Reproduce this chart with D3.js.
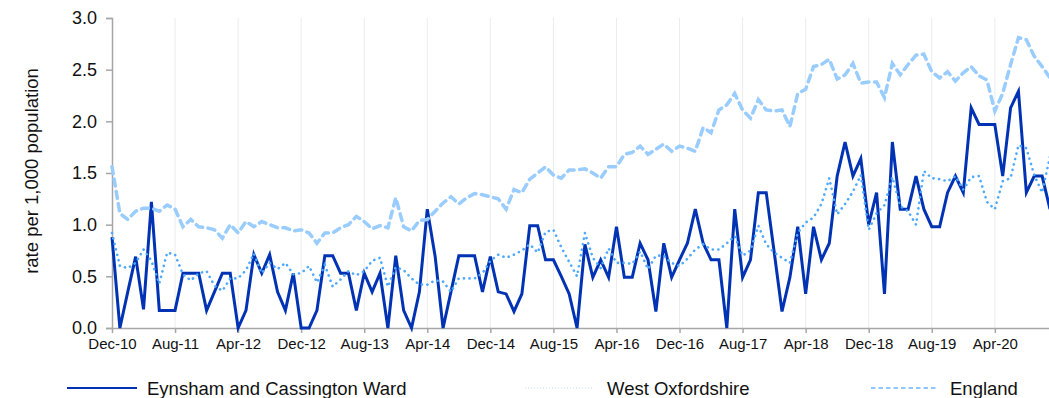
<!DOCTYPE html>
<html>
<head>
<meta charset="utf-8">
<script src="https://cdn.jsdelivr.net/npm/d3@7"></script>
<style>
  body { margin: 0; background: #fff; }
  svg { display: block; font-family: "Liberation Sans", Arial, sans-serif; }
</style>
</head>
<body>
<svg id="chart" width="1049" height="398"></svg>
<script>
// Monthly rate per 1,000 population, Dec 2010 to Nov 2020
const months = d3.timeMonth.range(new Date(2010, 11, 1), new Date(2020, 11, 1)).map(d3.timeFormat("%b-%y"));

const tickLabels = ["Dec-10", "Aug-11", "Apr-12", "Dec-12", "Aug-13", "Apr-14", "Dec-14", "Aug-15",
  "Apr-16", "Dec-16", "Aug-17", "Apr-18", "Dec-18", "Aug-19", "Apr-20"];
const yTicks = [0, 0.5, 1.0, 1.5, 2.0, 2.5, 3.0];

const eynsham = [
  0.88, 0.00, 0.35, 0.69, 0.18, 1.22, 0.17, 0.17, 0.17, 0.53, 0.53, 0.53,
  0.17, 0.35, 0.53, 0.53, 0.00, 0.17, 0.71, 0.53, 0.71, 0.35, 0.17, 0.53,
  0.00, 0.00, 0.17, 0.70, 0.70, 0.53, 0.53, 0.17, 0.53, 0.35, 0.53, 0.00,
  0.70, 0.17, 0.00, 0.35, 1.15, 0.69, 0.00, 0.35, 0.70, 0.70, 0.70, 0.35,
  0.69, 0.35, 0.33, 0.16, 0.33, 0.99, 0.99, 0.66, 0.66, 0.50, 0.33, 0.00,
  0.81, 0.49, 0.66, 0.49, 0.98, 0.49, 0.49, 0.82, 0.66, 0.16, 0.82, 0.49,
  0.66, 0.82, 1.15, 0.82, 0.66, 0.66, 0.00, 1.15, 0.49, 0.66, 1.31, 1.31,
  0.74, 0.16, 0.49, 0.98, 0.33, 0.98, 0.66, 0.82, 1.47, 1.80, 1.47, 1.64,
  1.00, 1.31, 0.33, 1.80, 1.15, 1.15, 1.47, 1.15, 0.98, 0.98, 1.31, 1.47,
  1.31, 2.13, 1.97, 1.97, 1.97, 1.47, 2.13, 2.29, 1.31, 1.47, 1.47, 1.15
];

const westOxfordshire = [
  0.92, 0.60, 0.58, 0.63, 0.76, 0.65, 0.43, 0.73, 0.71, 0.52, 0.46, 0.53,
  0.55, 0.41, 0.36, 0.48, 0.48, 0.56, 0.72, 0.53, 0.63, 0.57, 0.63, 0.52,
  0.53, 0.60, 0.44, 0.61, 0.40, 0.47, 0.55, 0.51, 0.55, 0.65, 0.68, 0.40,
  0.59, 0.56, 0.48, 0.42, 0.42, 0.46, 0.45, 0.35, 0.48, 0.48, 0.48, 0.53,
  0.65, 0.71, 0.68, 0.71, 0.75, 0.81, 0.73, 0.93, 0.95, 0.78, 0.64, 0.50,
  0.92, 0.68, 0.58, 0.77, 0.63, 0.63, 0.62, 0.74, 0.57, 0.70, 0.70, 0.63,
  0.60, 0.67, 0.76, 0.81, 0.76, 0.76, 0.82, 0.89, 0.70, 0.75, 0.99, 0.81,
  0.73, 0.68, 0.63, 0.92, 1.02, 1.07, 1.20, 1.45, 1.10, 1.20, 1.32, 1.48,
  0.95, 1.11, 1.19, 1.46, 1.18, 1.13, 1.00, 1.52, 1.45, 1.44, 1.42, 1.47,
  1.34, 1.46, 1.47, 1.22, 1.15, 1.42, 1.45, 1.77, 1.74, 1.48, 1.31, 1.66
];

const england = [
  1.56, 1.11, 1.05, 1.13, 1.16, 1.16, 1.13, 1.19, 1.15, 0.98, 1.05, 0.98,
  0.97, 0.95, 0.87, 1.00, 0.92, 1.03, 0.98, 1.03, 1.00, 0.97, 0.97, 0.94,
  0.95, 0.92, 0.82, 0.92, 0.92, 0.97, 1.00, 1.08, 1.03, 0.96, 0.99, 0.97,
  1.26, 0.98, 0.94, 1.04, 1.05, 1.13, 1.21, 1.27, 1.20, 1.26, 1.30, 1.29,
  1.27, 1.25, 1.15, 1.34, 1.31, 1.44, 1.50, 1.56, 1.48, 1.45, 1.53, 1.53,
  1.54, 1.50, 1.45, 1.56, 1.56, 1.68, 1.70, 1.76, 1.68, 1.73, 1.78, 1.71,
  1.76, 1.74, 1.71, 1.94, 1.89, 2.11, 2.16, 2.27, 2.11, 2.03, 2.21, 2.11,
  2.10, 2.11, 1.95, 2.27, 2.31, 2.53, 2.55, 2.60, 2.41, 2.45, 2.56, 2.37,
  2.38, 2.38, 2.23, 2.56, 2.45, 2.55, 2.64, 2.65, 2.48, 2.42, 2.48, 2.39,
  2.47, 2.53, 2.44, 2.40, 2.10, 2.27, 2.55, 2.81, 2.79, 2.63, 2.53, 2.42
];

const seriesNames = ["Eynsham and Cassington Ward", "West Oxfordshire", "England"];

const svg = d3.select("#chart");
const plot = { left: 112, right: 1050, top: 18, bottom: 328 };

const x = d3.scalePoint().domain(months).range([plot.left, plot.right]);
const y = d3.scaleLinear().domain([0, 3]).range([plot.bottom, plot.top]);

// vertical gridlines at the labelled months
svg.append("g")
  .selectAll("line")
  .data(tickLabels.slice(1))
  .join("line")
  .attr("x1", d => x(d)).attr("x2", d => x(d))
  .attr("y1", plot.top).attr("y2", plot.bottom)
  .attr("stroke", "#ececec").attr("stroke-width", 1);

// axes
const yAxis = svg.append("g")
  .attr("transform", `translate(${plot.left},0)`)
  .call(d3.axisLeft(y).tickValues(yTicks).tickFormat(d3.format(".1f")).tickSize(6).tickPadding(9));

const xAxis = svg.append("g")
  .attr("transform", `translate(0,${plot.bottom})`)
  .call(d3.axisBottom(x).tickValues(tickLabels).tickSize(5).tickPadding(5).tickSizeOuter(0));

[yAxis, xAxis].forEach(g => {
  g.selectAll("path.domain").attr("stroke", "#a6a6a6").attr("stroke-width", 1.5);
  g.selectAll(".tick line").attr("stroke", "#a6a6a6").attr("stroke-width", 1.5);
  g.selectAll("text").attr("fill", "#111");
});
yAxis.selectAll("text").attr("font-size", 18);
xAxis.selectAll("text").attr("font-size", 15);

// y-axis title
svg.append("text")
  .attr("transform", `translate(31,${(plot.top + plot.bottom) / 2 - 2}) rotate(-90)`)
  .attr("text-anchor", "middle")
  .attr("dominant-baseline", "central")
  .attr("font-size", 18.5)
  .attr("fill", "#111")
  .text("rate per 1,000 population");

// lines
const line = d3.line().x((d, i) => x(months[i])).y(d => y(d));

svg.append("path").datum(eynsham)
  .attr("d", line).attr("fill", "none")
  .attr("stroke", "#0033b4").attr("stroke-width", 3)
  .attr("stroke-linejoin", "miter");

svg.append("path").datum(westOxfordshire)
  .attr("d", line).attr("fill", "none")
  .attr("stroke", "#4da8ff").attr("stroke-width", 2.6)
  .attr("stroke-linecap", "round").attr("stroke-dasharray", "0.1 5.5");

svg.append("path").datum(england)
  .attr("d", line).attr("fill", "none")
  .attr("stroke", "#99ccff").attr("stroke-width", 3.5)
  .attr("stroke-linecap", "round").attr("stroke-dasharray", "7 5.5");

// legend
const legendItems = [
  { name: seriesNames[0], x1: 67, x2: 137, tx: 147, stroke: "#0033b4", width: 2.2, dash: null },
  { name: seriesNames[1], x1: 525, x2: 594, tx: 607, stroke: "#dbe6f3", width: 1.5, dash: "1 2" },
  { name: seriesNames[2], x1: 871, x2: 936, tx: 950, stroke: "#8ec6ff", width: 1.8, dash: "4.5 3" }
];
const legend = svg.append("g").attr("transform", "translate(0,388)");
const li = legend.selectAll("g").data(legendItems).join("g");
li.append("line")
  .attr("x1", d => d.x1).attr("x2", d => d.x2)
  .attr("y1", 0).attr("y2", 0)
  .attr("stroke", d => d.stroke).attr("stroke-width", d => d.width)
  .attr("stroke-dasharray", d => d.dash);
li.append("text")
  .attr("x", d => d.tx).attr("y", 0)
  .attr("dominant-baseline", "central")
  .attr("font-size", 18.5).attr("fill", "#111")
  .text(d => d.name);
</script>
</body>
</html>
